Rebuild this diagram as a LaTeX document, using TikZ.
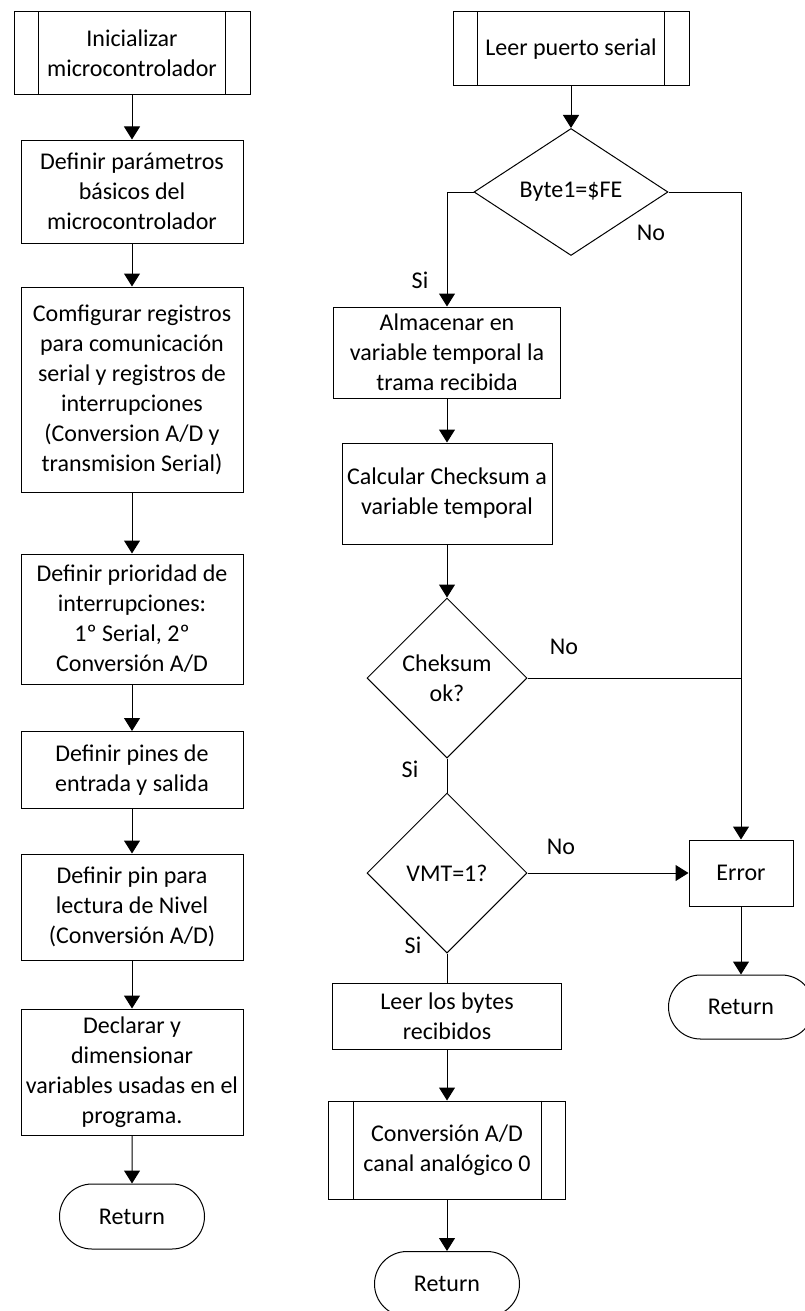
\documentclass[tikz,border=0pt]{standalone}
\usepackage{fontspec}
\setmainfont{Carlito}
\usepackage{tikz}
\usetikzlibrary{shapes.geometric, shapes.misc, arrows.meta}

\begin{document}
\begin{tikzpicture}[
   x=1pt, y=-1pt,
   font=\fontsize{24}{30}\selectfont,
   procbox/.style={rectangle, draw=black, line width=1, align=center,
                   inner sep=0, minimum width=222, text=black},
   subbox/.style={rectangle, draw=black, line width=1, align=center,
                  inner sep=0, text=black},
   decide/.style={diamond, draw=black, line width=1, align=center,
                  inner sep=0, text=black},
   term/.style={rounded rectangle, draw=black, line width=1,
                inner sep=0, minimum width=145, minimum height=65},
   flow/.style={-{Triangle[length=13, width=16]}, line width=1, color=black},
   plain/.style={line width=1, color=black},
   lbl/.style={inner sep=0, text=black}
  ]

  \useasboundingbox (0, 0) rectangle (804, 1311);

  % Inner bar offset of the subroutine boxes
  \pgfmathsetmacro{\bar}{25}

  % Initialisation routine
  \begin{scope}
    \node (init) at (132, 53.5) [subbox, minimum width=236, minimum height=83]
      {Inicializar\\microcontrolador};
    \node (params) at (132, 191.5) [procbox, minimum height=103]
      {Definir parámetros\\básicos del\\microcontrolador};
    \node (regs) at (132, 389.5) [procbox, minimum height=205]
      {Comfigurar registros\\para comunicación\\serial y registros de\\interrupciones\\(Conversion A/D y\\transmision Serial)};
    \node (prio) at (132, 619) [procbox, minimum height=130]
      {Definir prioridad de\\interrupciones:\\1º Serial, 2º\\Conversión A/D};
    \node (pins) at (132, 770) [procbox, minimum height=77]
      {Definir pines de\\entrada y salida};
    \node (level) at (132, 907) [procbox, minimum height=106]
      {Definir pin para\\lectura de Nivel\\(Conversión A/D)};
    \node (vars) at (132, 1072) [procbox, minimum height=126]
      {Declarar y\\dimensionar\\variables usadas en el\\programa.};
    \node (retA) at (132, 1216.5) [term] {Return};

    \foreach \B/\E in {init/params, params/regs, regs/prio, prio/pins,
                       pins/level, level/vars, vars/retA} {
      \draw[flow] (\B) -- (\E);
    }
  \end{scope}

  % Serial port routine
  \begin{scope}
    \node (serial) at (571, 49) [subbox, minimum width=236, minimum height=74]
      {Leer puerto serial};
    \node (byte) at (571, 192) [decide, minimum width=194, minimum height=127]
      {Byte1=\$FE};
    \node (store) at (447, 352.5) [procbox, minimum width=227, minimum height=91]
      {Almacenar en\\variable temporal la\\trama recibida};
    \node (sum) at (447, 493.5) [procbox, minimum width=210, minimum height=101]
      {Calcular Checksum a\\variable temporal};
    \node (sumok) at (447, 678) [decide, minimum width=160, minimum height=160]
      {Cheksum\\ok?};
    \node (vmt) at (447, 873) [decide, minimum width=160, minimum height=160]
      {VMT=1?};
    \node (bytes) at (447, 1016) [procbox, minimum width=229, minimum height=66]
      {Leer los bytes\\recibidos};
    \node (adc) at (447, 1150) [subbox, minimum width=237, minimum height=98]
      {Conversión A/D\\canal analógico 0};
    \node (retB) at (447, 1284) [term] {Return};

    \node (error) at (741, 873) [procbox, minimum width=104, minimum height=66]
      {Error};
    \node (retC) at (741, 1007) [term, minimum height=64] {Return};

    \draw[flow] (serial) -- (byte);
    \draw[flow] (byte.west) -| (store.north);
    \draw[flow] (byte.east) -| (error.north);
    \draw[plain] (sumok.east) -- (sumok.east -| error.north);
    \draw[flow] (vmt.east) -- (error.west);

    \foreach \B/\E in {store/sum, sum/sumok, bytes/adc, adc/retB, error/retC} {
      \draw[flow] (\B) -- (\E);
    }
    \foreach \B/\E in {sumok/vmt, vmt/bytes} {
      \draw[plain] (\B.south) -- (\E.north);
    }

    \node (yesA) at (420, 280) [lbl] {Si};
    \node (noA) at (651, 233) [lbl] {No};
    \node (noB) at (564, 647) [lbl] {No};
    \node (yesB) at (410, 769) [lbl] {Si};
    \node (noC) at (561, 847) [lbl] {No};
    \node (yesC) at (413, 945) [lbl] {Si};
  \end{scope}

  % Side bars of the subroutine boxes
  \foreach \N in {init, serial, adc} {
    \draw[plain] ([xshift=\bar]\N.north west) -- ([xshift=\bar]\N.south west);
    \draw[plain] ([xshift=-\bar]\N.north east) -- ([xshift=-\bar]\N.south east);
  }

\end{tikzpicture}
\end{document}
